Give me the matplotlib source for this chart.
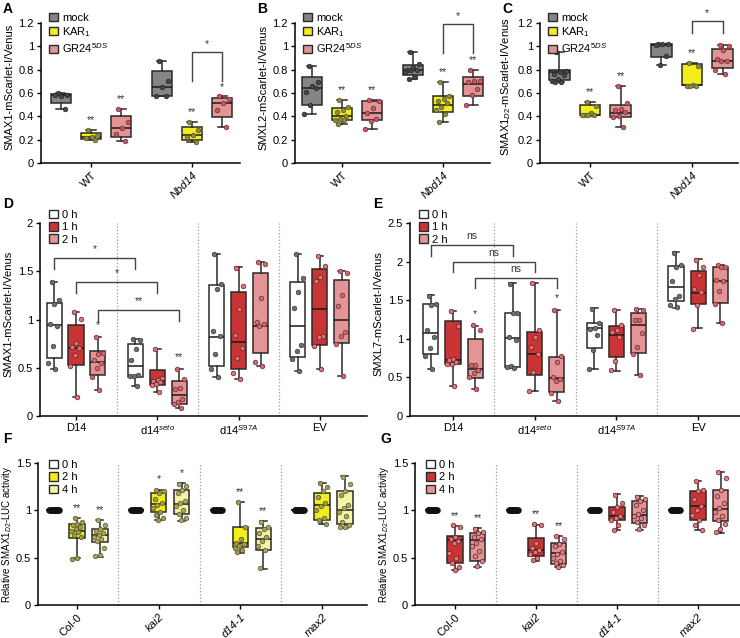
# SMAX1 / SMXL reporter panels (A-G), GraphPad style box plots

import matplotlib
matplotlib.use("Agg")
import matplotlib.pyplot as plt
from matplotlib.patches import Patch
import numpy as np

plt.rcParams['font.family'] = ['Liberation Sans', 'DejaVu Sans']
plt.rcParams['font.size'] = 7.5
plt.rcParams['mathtext.fontset'] = 'custom'
plt.rcParams['mathtext.rm'] = 'Liberation Sans'
plt.rcParams['mathtext.it'] = 'Liberation Sans:italic'

# ---------------- panel A: SMAX1-mScarlet-I/Venus ----------------
abc_groups = ["WT", "Nbd14"]
abc_labels = ["mock", "KAR$_1$", "GR24$^{5DS}$"]

a_lo  = [0.46, 0.20, 0.19, 0.57, 0.18, 0.31]
a_q1  = [0.51, 0.205, 0.22, 0.57, 0.20, 0.39]
a_med = [0.58, 0.22, 0.30, 0.65, 0.24, 0.51]
a_q3  = [0.59, 0.26, 0.40, 0.79, 0.31, 0.56]
a_hi  = [0.60, 0.28, 0.46, 0.87, 0.35, 0.57]
a_pts = [[0.60, 0.58, 0.57, 0.58, 0.46], [0.28, 0.23, 0.22, 0.21, 0.20],
         [0.46, 0.35, 0.30, 0.25, 0.19], [0.87, 0.70, 0.65, 0.57, 0.57],
         [0.35, 0.28, 0.24, 0.22, 0.18], [0.57, 0.55, 0.51, 0.45, 0.31]]
a_stars = ["", "**", "**", "", "**", "*"]
a_brackets = [((1, 1), (1, 2), 0.70, 0.95, "*")]

# ---------------- panel B: SMXL2-mScarlet-I/Venus ----------------
b_lo  = [0.42, 0.33, 0.29, 0.72, 0.35, 0.50]
b_q1  = [0.50, 0.37, 0.37, 0.75, 0.44, 0.57]
b_med = [0.645, 0.40, 0.43, 0.80, 0.50, 0.68]
b_q3  = [0.74, 0.47, 0.53, 0.84, 0.57, 0.74]
b_hi  = [0.83, 0.54, 0.54, 0.95, 0.69, 0.80]
b_pts = [[0.83, 0.69, 0.66, 0.61, 0.64, 0.50, 0.42],
         [0.54, 0.48, 0.45, 0.44, 0.40, 0.38, 0.37, 0.37, 0.33],
         [0.54, 0.53, 0.47, 0.43, 0.38, 0.36, 0.29],
         [0.95, 0.85, 0.82, 0.80, 0.80, 0.80, 0.78, 0.74, 0.72],
         [0.69, 0.57, 0.55, 0.53, 0.51, 0.48, 0.45, 0.42, 0.35],
         [0.80, 0.70, 0.70, 0.69, 0.63, 0.58, 0.50]]
b_stars = ["", "**", "**", "", "**", "**"]
b_brackets = [((1, 1), (1, 2), 0.94, 1.19, "*")]

# ---------------- panel C: SMAX1D2-mScarlet-I/Venus ----------------
c_lo  = [0.69, 0.40, 0.31, 0.84, 0.66, 0.76]
c_q1  = [0.71, 0.41, 0.39, 0.91, 0.67, 0.81]
c_med = [0.78, 0.41, 0.43, 1.01, 0.67, 0.87]
c_q3  = [0.80, 0.50, 0.50, 1.02, 0.85, 0.98]
c_hi  = [0.95, 0.52, 0.66, 1.02, 0.86, 1.01]
c_pts = [[0.95, 0.79, 0.78, 0.76, 0.75, 0.72, 0.70, 0.69, 0.69],
         [0.52, 0.49, 0.43, 0.41, 0.41, 0.41, 0.41],
         [0.66, 0.51, 0.46, 0.45, 0.44, 0.40, 0.39, 0.31],
         [1.02, 1.02, 1.02, 1.01, 0.92, 0.84],
         [0.86, 0.83, 0.67, 0.66, 0.66, 0.66],
         [1.01, 1.00, 0.97, 0.89, 0.87, 0.87, 0.80, 0.76]]
c_stars = ["", "**", "**", "", "**", ""]
c_brackets = [((1, 1), (1, 2), 1.11, 1.22, "*")]

# ---------------- panel D: SMAX1-mScarlet-I/Venus, time course ----------------
de_groups = ["D14", "d14$^{seto}$", "d14$^{S97A}$", "EV"]
de_labels = ["0 h", "1 h", "2 h"]

d_lo  = [0.49, 0.20, 0.27, 0.31, 0.25, 0.08, 0.40, 0.38, 0.52, 0.47, 0.49, 0.41]
d_q1  = [0.60, 0.53, 0.43, 0.40, 0.32, 0.12, 0.52, 0.485, 0.65, 0.61, 0.74, 0.76]
d_med = [0.94, 0.70, 0.555, 0.52, 0.36, 0.22, 0.82, 0.77, 0.93, 0.93, 1.11, 1.00]
d_q3  = [1.17, 0.94, 0.67, 0.745, 0.475, 0.36, 1.36, 1.29, 1.48, 1.39, 1.52, 1.41]
d_hi  = [1.39, 1.08, 0.82, 0.80, 0.69, 0.49, 1.68, 1.54, 1.60, 1.68, 1.66, 1.50]
d_pts = [[1.39, 1.20, 1.16, 0.95, 0.93, 0.73, 0.55, 0.49],
         [1.08, 1.01, 0.76, 0.72, 0.70, 0.63, 0.52, 0.20],
         [0.82, 0.65, 0.64, 0.58, 0.55, 0.50, 0.40, 0.27],
         [0.80, 0.79, 0.69, 0.58, 0.43, 0.41, 0.41, 0.31],
         [0.69, 0.39, 0.37, 0.36, 0.35, 0.33, 0.32, 0.25],
         [0.49, 0.38, 0.29, 0.28, 0.18, 0.14, 0.12, 0.08],
         [1.68, 1.37, 1.32, 0.88, 0.83, 0.64, 0.49, 0.40],
         [1.53, 1.35, 1.11, 0.84, 0.70, 0.60, 0.45, 0.38],
         [1.60, 1.58, 1.22, 0.97, 0.95, 0.93, 0.56, 0.52],
         [1.68, 1.43, 1.29, 1.12, 0.74, 0.67, 0.59, 0.47],
         [1.66, 1.55, 1.44, 1.40, 0.83, 0.82, 0.73, 0.49],
         [1.50, 1.48, 1.25, 1.14, 0.87, 0.83, 0.75, 0.41]]
d_stars = ["", "", "*", "", "", "**", "", "", "", "", "", ""]
d_brackets = [((0, 0), (1, 0), 1.525, 1.64, "*"),
              ((0, 1), (1, 1), 1.27, 1.39, "*"),
              ((0, 2), (1, 2), 0.98, 1.10, "**")]

# ---------------- panel E: SMXL7-mScarlet-I/Venus, time course ----------------
e_lo  = [0.61, 0.39, 0.35, 0.62, 0.33, 0.20, 0.61, 0.58, 0.53, 1.40, 1.135, 1.21]
e_q1  = [0.80, 0.67, 0.49, 0.64, 0.53, 0.31, 0.875, 0.77, 0.82, 1.49, 1.445, 1.47]
e_med = [1.07, 0.72, 0.615, 1.005, 0.80, 0.49, 1.135, 1.05, 1.18, 1.67, 1.59, 1.755]
e_q3  = [1.45, 1.235, 1.00, 1.34, 1.09, 0.77, 1.21, 1.16, 1.34, 1.945, 1.88, 1.93]
e_hi  = [1.57, 1.36, 1.17, 1.72, 1.72, 1.37, 1.40, 1.37, 1.39, 2.12, 2.03, 1.95]
e_pts = [[1.56, 1.45, 1.44, 1.12, 1.02, 0.88, 0.78, 0.61],
         [1.36, 1.17, 0.74, 0.72, 0.70, 0.68, 0.67, 0.39],
         [1.18, 1.12, 0.66, 0.66, 0.60, 0.56, 0.50, 0.35],
         [1.71, 1.34, 1.33, 1.02, 0.99, 0.65, 0.63, 0.62],
         [1.72, 1.12, 1.02, 0.89, 0.80, 0.57, 0.33],
         [1.37, 0.78, 0.70, 0.50, 0.48, 0.45, 0.30, 0.20],
         [1.39, 1.20, 1.14, 1.13, 1.05, 0.85, 0.61],
         [1.37, 1.18, 1.12, 1.09, 1.02, 0.71, 0.59],
         [1.38, 1.37, 1.25, 1.24, 1.07, 0.90, 0.80, 0.53],
         [2.11, 1.96, 1.93, 1.75, 1.55, 1.52, 1.44, 1.41],
         [2.02, 1.93, 1.82, 1.64, 1.60, 1.44, 1.13],
         [1.95, 1.93, 1.93, 1.76, 1.75, 1.62, 1.45, 1.21]]
e_stars = ["", "", "*", "", "", "*", "", "", "", "", "", ""]
e_brackets = [((0, 0), (1, 0), 2.075, 2.22, "ns"),
              ((0, 1), (1, 1), 1.87, 2.00, "ns"),
              ((0, 2), (1, 2), 1.66, 1.79, "ns")]

# ---------------- panel F: relative SMAX1D2-LUC activity (KAR1) ----------------
fg_groups = ["Col-0", "kai2", "d14-1", "max2"]
f_labels = ["0 h", "2 h", "4 h"]
g_labels = ["0 h", "2 h", "4 h"]
ones = [1.0] * 12

f_lo  = [1, 0.50, 0.51, 1, 0.90, 0.89, 1, 0.55, 0.385, 1, 0.855, 0.815]
f_q1  = [1, 0.71, 0.67, 1, 0.98, 0.965, 1, 0.615, 0.58, 1, 0.90, 0.86]
f_med = [1, 0.78, 0.74, 1, 1.065, 1.07, 1, 0.66, 0.70, 1, 1.055, 1.00]
f_q3  = [1, 0.855, 0.80, 1, 1.18, 1.21, 1, 0.825, 0.815, 1, 1.18, 1.20]
f_hi  = [1, 0.92, 0.90, 1, 1.22, 1.29, 1, 1.09, 0.885, 1, 1.29, 1.36]
f_pts = [ones,
         [0.92, 0.88, 0.86, 0.84, 0.82, 0.80, 0.78, 0.77, 0.74, 0.72, 0.50, 0.49],
         [0.90, 0.85, 0.80, 0.78, 0.76, 0.74, 0.72, 0.70, 0.68, 0.60, 0.53, 0.52],
         ones,
         [1.22, 1.20, 1.18, 1.12, 1.08, 1.06, 1.02, 0.98, 0.95, 0.92, 0.90],
         [1.28, 1.26, 1.22, 1.18, 1.10, 1.08, 1.05, 1.00, 0.96, 0.92, 0.90],
         ones,
         [1.09, 0.82, 0.70, 0.66, 0.64, 0.62, 0.60, 0.58, 0.56],
         [0.88, 0.82, 0.80, 0.76, 0.72, 0.68, 0.62, 0.58, 0.39],
         ones,
         [1.29, 1.25, 1.20, 1.14, 1.08, 1.05, 1.00, 0.92, 0.90, 0.86],
         [1.35, 1.28, 1.20, 1.16, 1.06, 1.02, 0.98, 0.94, 0.88, 0.84, 0.82, 0.82]]
f_stars = ["", "**", "**", "", "*", "*", "", "**", "**", "", "", ""]

# ---------------- panel G: relative SMAX1D2-LUC activity (GR24) ----------------
g_lo  = [1, 0.37, 0.40, 1, 0.47, 0.40, 1, 0.79, 0.79, 1, 0.79, 0.76]
g_q1  = [1, 0.44, 0.47, 1, 0.515, 0.43, 1, 0.90, 0.87, 1, 0.90, 0.89]
g_med = [1, 0.685, 0.685, 1, 0.58, 0.545, 1, 0.94, 0.95, 1, 1.05, 1.01]
g_q3  = [1, 0.73, 0.76, 1, 0.71, 0.66, 1, 1.04, 1.10, 1, 1.20, 1.22]
g_hi  = [1, 0.83, 0.81, 1, 0.85, 0.73, 1, 1.17, 1.15, 1, 1.31, 1.40]
g_pts = [ones,
         [0.84, 0.82, 0.72, 0.70, 0.68, 0.66, 0.55, 0.50, 0.44, 0.40, 0.37],
         [0.80, 0.77, 0.76, 0.72, 0.70, 0.66, 0.62, 0.57, 0.52, 0.46, 0.41],
         ones,
         [0.86, 0.84, 0.66, 0.60, 0.58, 0.56, 0.54, 0.50, 0.48],
         [0.73, 0.70, 0.64, 0.62, 0.56, 0.54, 0.50, 0.46, 0.44, 0.42, 0.40],
         ones,
         [1.16, 1.08, 1.04, 0.98, 0.94, 0.92, 0.90, 0.84, 0.79],
         [1.14, 1.12, 1.10, 1.06, 1.00, 0.96, 0.94, 0.92, 0.88, 0.84, 0.80],
         ones,
         [1.31, 1.22, 1.20, 1.12, 1.05, 1.00, 0.95, 0.90, 0.84, 0.79],
         [1.40, 1.34, 1.22, 1.15, 1.08, 1.02, 0.98, 0.94, 0.90, 0.86, 0.80, 0.77]]
g_stars = ["", "**", "**", "", "**", "**", "", "", "", "", "", ""]

# colours (fill, dot face, dot edge)
abc_fill = ["#858585", "#f2ee1c", "#e39494"]
abc_dot = [("#474747", "#262626"), ("#8e8b3e", "#55532a"), ("#c25a66", "#7a2a33")]
de_fill = ["#ffffff", "#c93434", "#e39494"]
de_dot = [("#6e6e6e", "#3a3a3a"), ("#d67b7b", "#6e1e24"), ("#c86a72", "#7a2a33")]
f_fill = ["#ffffff", "#f2ee1c", "#f5f3a6"]
f_dot = [("#111111", "#111111"), ("#9e9a50", "#5a582c"), ("#a8a462", "#5a582c")]
g_fill = ["#ffffff", "#c93434", "#e39494"]
g_dot = [("#111111", "#111111"), ("#d67b7b", "#6e1e24"), ("#d08890", "#6e1e24")]

W, H = 740, 638
fig = plt.figure(figsize=(W / 100, H / 100), dpi=100)


def px_axes(left, right, top, bottom):
    return fig.add_axes([left / W, 1 - bottom / H, (right - left) / W, (bottom - top) / H])


def draw_panel(ax, ngroups, offs, width, lo, q1, med, q3, hi, pts, fills, dots,
               stars, ymax, ytop, yticks, xlim, separators=False):
    nsub = len(offs)
    pos = [g + offs[s] for g in range(ngroups) for s in range(nsub)]
    stats = [dict(whislo=a, q1=b, med=c, q3=d, whishi=e, fliers=[])
             for a, b, c, d, e in zip(lo, q1, med, q3, hi)]
    res = ax.bxp(stats, positions=pos, widths=width, patch_artist=True,
                 showfliers=False, capwidths=width * 0.45,
                 boxprops=dict(edgecolor="#2a2a2a", linewidth=1.1),
                 medianprops=dict(color="#1a1a1a", linewidth=1.1),
                 whiskerprops=dict(color="#2a2a2a", linewidth=1.1),
                 capprops=dict(color="#2a2a2a", linewidth=1.1), zorder=2)
    for i, box in enumerate(res["boxes"]):
        box.set_facecolor(fills[i % nsub])
    for i, vals in enumerate(pts):
        n = len(vals)
        fc, ec = dots[i % nsub]
        if all(v == 1.0 for v in vals) and n > 10:
            # 0 h controls: all normalised to 1, dots pile up into a bar
            jit = np.linspace(-0.5, 0.5, n) * width * 0.6
            ax.scatter(pos[i] + jit, vals, s=22, color=fc, zorder=3, linewidths=0)
            continue
        jit = ((np.arange(n) * 0.618 + 0.3) % 1 - 0.5) * width * 0.75
        ax.scatter(pos[i] + jit, vals, s=11, facecolor=fc, edgecolor=ec,
                   linewidths=0.5, zorder=3)
    pad = ymax * 0.035
    for i, st in enumerate(stars):
        if st:
            ax.text(pos[i], hi[i] + pad, st, ha="center", va="bottom", fontsize=7.5,
                    color="#333333")
    ax.set_xlim(*xlim)
    ax.set_ylim(0, ytop)
    ax.set_yticks(yticks)
    ax.set_yticklabels(["%g" % t for t in yticks])
    ax.spines["top"].set_visible(False)
    ax.spines["right"].set_visible(False)
    ax.spines["left"].set_bounds(0, ymax)
    for sp in ("left", "bottom"):
        ax.spines[sp].set_linewidth(1.1)
    ax.tick_params(direction="out", length=3, width=1.0, labelsize=8, pad=2)
    ax.set_xticks(range(ngroups))
    if separators:
        for s in np.arange(0.5, ngroups - 0.5, 1):
            ax.axvline(s, ymin=0, ymax=ymax / ytop, color="#9a9a9a", ls=":",
                       lw=0.9, zorder=1)
    return pos


def draw_brackets(ax, pos, nsub, brackets):
    for (g1, s1), (g2, s2), leg, top, txt in brackets:
        x1 = pos[g1 * nsub + s1]
        x2 = pos[g2 * nsub + s2]
        ax.plot([x1, x1, x2, x2], [leg, top, top, leg], color="#444444", lw=1.0,
                zorder=2)
        ax.text((x1 + x2) / 2, top + 0.02 * ax.get_ylim()[1], txt, ha="center",
                va="bottom", fontsize=7.5, color="#333333")


def legend(ax, labels, fills, anchor):
    handles = [Patch(facecolor=f, edgecolor="#2a2a2a", linewidth=1.0) for f in fills]
    ax.legend(handles, labels, loc="upper left", bbox_to_anchor=anchor, frameon=False,
              handlelength=0.8, handleheight=0.8, handletextpad=0.35,
              labelspacing=0.2, borderaxespad=0, fontsize=8)


def tick_names(ax, groups, upright, rot):
    if rot:
        ax.set_xticklabels(groups, rotation=45, ha="right", rotation_mode="anchor",
                           fontsize=8)
    else:
        ax.set_xticklabels(groups, fontsize=8)
    for lab, name in zip(ax.get_xticklabels(), groups):
        if name not in upright:
            lab.set_fontstyle("italic")


# A, B, C
abc_yt = [0, 0.2, 0.4, 0.6, 0.8, 1, 1.2]
abc_spec = [
    ("A", 41, 240, 91, 101, a_lo, a_q1, a_med, a_q3, a_hi, a_pts, a_stars, a_brackets,
     "SMAX1-mScarlet-I/Venus"),
    ("B", 295, 490, 342, 101, b_lo, b_q1, b_med, b_q3, b_hi, b_pts, b_stars, b_brackets,
     "SMXL2-mScarlet-I/Venus"),
    ("C", 540, 738, 590, 102, c_lo, c_q1, c_med, c_q3, c_hi, c_pts, c_stars, c_brackets,
     "SMAX1$_{D2}$-mScarlet-I/Venus"),
]
for letter, l, r, x0, ppu, lo, q1, med, q3, hi, pts, stars, br, ylab in abc_spec:
    ax = px_axes(l, r, 163 - 1.3 * 116.7, 163)
    pos = draw_panel(ax, 2, [-0.3, 0, 0.3], 0.2, lo, q1, med, q3, hi, pts, abc_fill,
                     abc_dot, stars, 1.2, 1.3, abc_yt,
                     ((l - x0) / ppu, (r - x0) / ppu))
    draw_brackets(ax, pos, 3, br)
    tick_names(ax, abc_groups, ["WT"], True)
    ax.set_ylabel(ylab, fontsize=8, labelpad=3)
    legend(ax, abc_labels, abc_fill, (0.02, 1.02))
    fig.text((l - 38) / W, 1 - 2 / H, letter, fontsize=10, fontweight="bold", va="top")

# D, E
de_spec = [
    ("D", 40, 367, 76, 81.3, 2.0, 2.12, [0, 0.5, 1, 1.5, 2], d_lo, d_q1, d_med, d_q3,
     d_hi, d_pts, d_stars, d_brackets, "SMAX1-mScarlet-I/Venus"),
    ("E", 410, 740, 453, 81.7, 2.5, 2.65, [0, 0.5, 1, 1.5, 2, 2.5], e_lo, e_q1, e_med,
     e_q3, e_hi, e_pts, e_stars, e_brackets, "SMXL7-mScarlet-I/Venus"),
]
for letter, l, r, x0, ppu, ymax, ytop, yt, lo, q1, med, q3, hi, pts, stars, br, ylab in de_spec:
    ppy = 193 / ymax
    ax = px_axes(l, r, 416 - ytop * ppy, 416)
    pos = draw_panel(ax, 4, [-0.27, 0, 0.27], 0.185, lo, q1, med, q3, hi, pts, de_fill,
                     de_dot, stars, ymax, ytop, yt, ((l - x0) / ppu, (r - x0) / ppu),
                     separators=True)
    draw_brackets(ax, pos, 3, br)
    tick_names(ax, de_groups, de_groups, False)
    ax.set_ylabel(ylab, fontsize=8, labelpad=3)
    legend(ax, de_labels, de_fill, (0.015, 1.03))
    fig.text((l - 37) / W, 1 - 197 / H, letter, fontsize=10, fontweight="bold", va="top")

# F, G
fg_spec = [
    ("F", 38, 367, 77, 81.7, f_lo, f_q1, f_med, f_q3, f_hi, f_pts, f_stars, f_fill,
     f_dot, f_labels),
    ("G", 415, 740, 455, 81.0, g_lo, g_q1, g_med, g_q3, g_hi, g_pts, g_stars, g_fill,
     g_dot, g_labels),
]
for letter, l, r, x0, ppu, lo, q1, med, q3, hi, pts, stars, fills, dots, labs in fg_spec:
    ppy = 142 / 1.5
    ax = px_axes(l, r, 605 - 1.58 * ppy, 605)
    pos = draw_panel(ax, 4, [-0.28, 0, 0.28], 0.19, lo, q1, med, q3, hi, pts, fills,
                     dots, stars, 1.5, 1.58, [0, 0.5, 1, 1.5],
                     ((l - x0) / ppu, (r - x0) / ppu), separators=True)
    tick_names(ax, fg_groups, ["Col-0"], True)
    ax.set_ylabel("Relative SMAX1$_{D2}$-LUC activity", fontsize=7)
    ax.yaxis.set_label_coords(-24 / (r - l), 0.47)
    legend(ax, labs, fills, (0.02, 1.0))
    fig.text((l - 35) / W, 1 - 432 / H, letter, fontsize=10, fontweight="bold", va="top")

fig.savefig("out.png", dpi=100)
